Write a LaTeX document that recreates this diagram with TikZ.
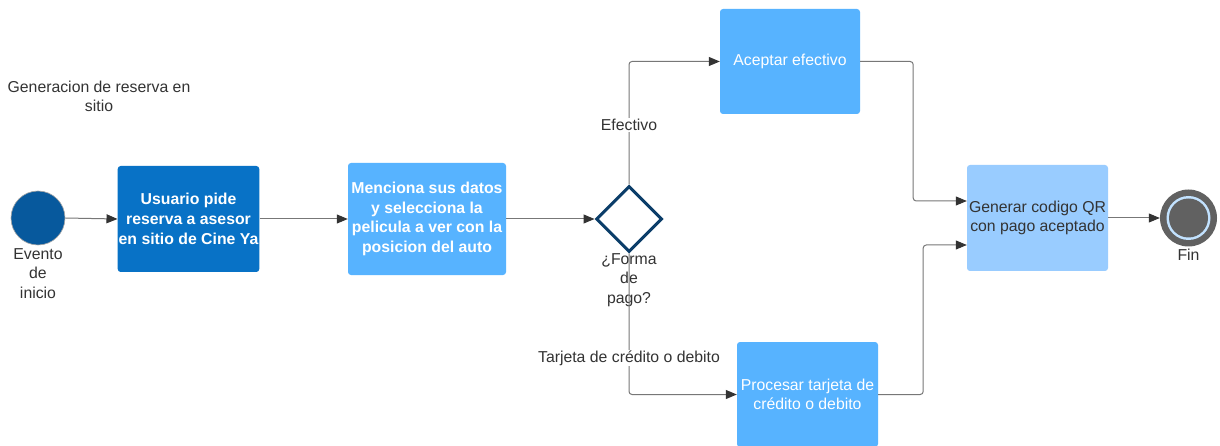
\documentclass[tikz,border=0pt]{standalone}
\usepackage{fontspec}
\setmainfont{Liberation Sans}
\usetikzlibrary{shapes.geometric,arrows.meta,calc}
\definecolor{dkblue}{HTML}{0872C6}
\definecolor{ltblue}{HTML}{57B3FF}
\definecolor{paleblue}{HTML}{99CCFF}
\definecolor{startblue}{HTML}{07599D}
\definecolor{navy}{HTML}{0B3D69}
\definecolor{linegray}{HTML}{777777}
\definecolor{txtgray}{HTML}{333333}
\definecolor{fingray}{HTML}{616161}
\definecolor{finring}{HTML}{C2E2FF}
\tikzset{
  task/.style={rectangle, rounded corners=3pt, draw=none, align=center, inner sep=1pt},
  conn/.style={draw=linegray, line width=1pt, rounded corners=3pt, -{Triangle[length=11pt,width=9pt,fill=txtgray,color=txtgray]}},
  lbl/.style={text=txtgray, align=center, inner sep=1pt},
}
\begin{document}
\begin{tikzpicture}[x=1pt,y=-1pt,font=\fontsize{15.8}{19.5}\selectfont]
\useasboundingbox (0,0) rectangle (1220,446);
\fill[white] (0,0) rectangle (1220,446);

% title
\node[lbl] (title) at (99,96.5) {Generacion de reserva en\\sitio};

% start event
\node[circle, fill=startblue, draw=gray!70, line width=0.6pt, minimum size=54pt, inner sep=0] (start) at (38,218) {};
\node[lbl] (startlbl) at (38,273.5) {Evento\\de\\inicio};

% tasks
\node[task, fill=dkblue, text=white, font=\fontsize{15.8}{20}\selectfont\bfseries, minimum width=141pt, minimum height=106pt] (t1) at (188.5,219) {Usuario pide\\reserva a asesor\\en sitio de Cine Ya};
\node[task, fill=ltblue, text=white, font=\fontsize{15.8}{19.5}\selectfont\bfseries, minimum width=158pt, minimum height=112pt] (t2) at (427,219) {Menciona sus datos\\y selecciona la\\pelicula a ver con la\\posicion del auto};

% gateway
\node[diamond, aspect=1, draw=navy, line width=3pt, fill=white, minimum width=66pt, minimum height=66pt, inner sep=0] (gw) at (629,219) {};
\node[lbl] (gwlbl) at (629,280) {¿Forma\\de\\pago?};

\node[task, fill=ltblue, text=white, minimum width=140pt, minimum height=105pt] (acc) at (790,61.5) {\raisebox{3pt}{Aceptar efectivo}};
\node[task, fill=ltblue, text=white, minimum width=141pt, minimum height=105pt] (proc) at (807.5,394.5) {Procesar tarjeta de\\crédito o debito};
\node[task, fill=paleblue, text=txtgray, minimum width=141pt, minimum height=106pt] (gen) at (1037.5,218) {Generar codigo QR\\con pago aceptado};

% end event
\node[circle, fill=fingray, minimum size=57pt, inner sep=0] (fin) at (1188.5,218) {};
\fill[finring] (fin.center) circle[radius=22pt];
\fill[fingray] (fin.center) circle[radius=19.5pt];
\node[lbl] (finlbl) at (1188.5,255) {Fin};

% connectors
\draw[conn] (start.east) -- (t1.west);
\draw[conn] (t1.east) -- (t2.west);
\draw[conn] (t2.east) -- (gw.west);
\draw[conn] (gw.north) |- (acc.west);
\node[lbl, fill=white] (efl) at (629,125) {Efectivo};
\draw[conn] (gw.south) |- (proc.west);
\node[lbl, fill=white] (tjl) at (629,358) {Tarjeta de crédito o debito};
\draw[conn] (acc.east) -- ++(53,0) |- ([yshift=17pt]gen.west);
\draw[conn] (proc.east) -- ++(45,0) |- ([yshift=-27pt]gen.west);
\draw[conn] (gen.east) -- (fin.west);
\end{tikzpicture}
\end{document}
